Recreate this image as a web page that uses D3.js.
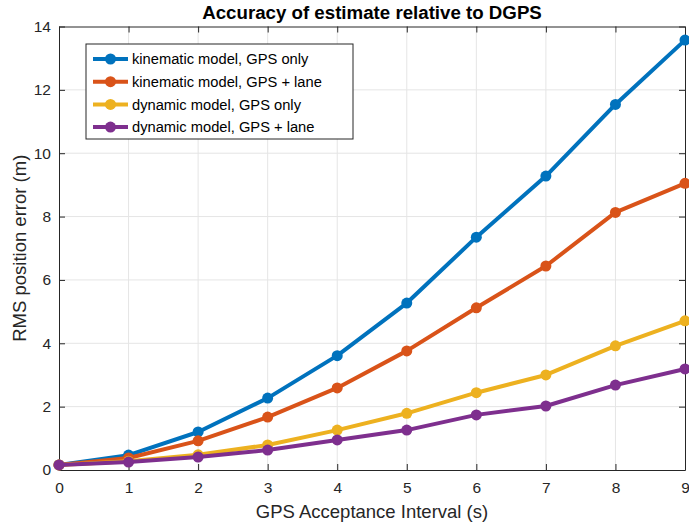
<!DOCTYPE html>
<html>
<head>
<meta charset="utf-8">
<script src="https://cdn.jsdelivr.net/npm/d3@7/dist/d3.min.js"></script>
<style>
  body { margin: 0; background: #fff; }
  text { font-family: "Liberation Sans", Arial, sans-serif; }
</style>
</head>
<body>
<div id="chart"></div>
<script>
var intervals = [0, 1, 2, 3, 4, 5, 6, 7, 8, 9];
var kinGps     = [0.16, 0.47, 1.2, 2.27, 3.61, 5.27, 7.35, 9.28, 11.54, 13.57];
var kinGpsLane = [0.16, 0.38, 0.92, 1.67, 2.59, 3.76, 5.12, 6.44, 8.13, 9.05];
var dynGps     = [0.16, 0.28, 0.48, 0.79, 1.26, 1.79, 2.44, 3.0, 3.92, 4.71];
var dynGpsLane = [0.16, 0.25, 0.41, 0.63, 0.95, 1.26, 1.74, 2.02, 2.68, 3.19];
var seriesNames = ["kinematic model, GPS only", "kinematic model, GPS + lane",
                   "dynamic model, GPS only", "dynamic model, GPS + lane"];
var xTicks = [0, 1, 2, 3, 4, 5, 6, 7, 8, 9];
var yTicks = [0, 2, 4, 6, 8, 10, 12, 14];

var colors = ["#0072BD", "#D95319", "#EDB120", "#7E2F8E"];
var series = [kinGps, kinGpsLane, dynGps, dynGpsLane].map(function(vals, i){
  return {name: seriesNames[i], color: colors[i],
          values: vals.map(function(v, j){ return {x: intervals[j], y: v}; })};
});

var width = 689, height = 525;
var margin = {top: 26.5, right: 4, bottom: 55, left: 59};

var svg = d3.select("#chart").append("svg")
  .attr("width", width)
  .attr("height", height);

var xScale = d3.scaleLinear().domain([0, 9]).range([margin.left, width - margin.right]);
var yScale = d3.scaleLinear().domain([0, 14]).range([height - margin.bottom, margin.top]);

var x0 = xScale.range()[0], x1 = xScale.range()[1];
var y0 = yScale.range()[0], y1 = yScale.range()[1];

// grid
var grid = svg.append("g").attr("class", "grid");
grid.selectAll("line.gx").data(xTicks.slice(1, -1)).enter().append("line")
  .attr("x1", d => xScale(d)).attr("x2", d => xScale(d))
  .attr("y1", y1).attr("y2", y0)
  .attr("stroke", "#e5e5e5").attr("stroke-width", 1);
grid.selectAll("line.gy").data(yTicks.slice(1, -1)).enter().append("line")
  .attr("y1", d => yScale(d)).attr("y2", d => yScale(d))
  .attr("x1", x0).attr("x2", x1)
  .attr("stroke", "#e5e5e5").attr("stroke-width", 1);

// axes (ticks inside, box on)
var tickLen = 6;
var xAxis = d3.axisBottom(xScale).tickValues(xTicks).tickSizeInner(-tickLen).tickSizeOuter(0).tickPadding(12);
var yAxis = d3.axisLeft(yScale).tickValues(yTicks).tickSizeInner(-tickLen).tickSizeOuter(0).tickPadding(8);
var xAxisTop = d3.axisTop(xScale).tickValues(xTicks).tickSizeInner(-tickLen).tickSizeOuter(0).tickFormat("");
var yAxisRight = d3.axisRight(yScale).tickValues(yTicks).tickSizeInner(-tickLen).tickSizeOuter(0).tickFormat("");

function styleAxis(g){
  g.selectAll("path").attr("stroke", "#262626").attr("stroke-width", 1);
  g.selectAll("line").attr("stroke", "#262626").attr("stroke-width", 1);
  g.selectAll("text").attr("fill", "#262626").style("font-size", "15.5px");
}

svg.append("g").attr("transform", "translate(0," + y0 + ")").call(xAxis).call(styleAxis);
svg.append("g").attr("transform", "translate(" + x0 + ",0)").call(yAxis).call(styleAxis);
svg.append("g").attr("transform", "translate(0," + y1 + ")").call(xAxisTop).call(styleAxis);
svg.append("g").attr("transform", "translate(" + x1 + ",0)").call(yAxisRight).call(styleAxis);

// lines
var line = d3.line().x(d => xScale(d.x)).y(d => yScale(d.y));

var sg = svg.selectAll("g.series").data(series).enter().append("g").attr("class", "series");
sg.append("path")
  .attr("d", d => line(d.values))
  .attr("fill", "none")
  .attr("stroke", d => d.color)
  .attr("stroke-width", 4)
  .attr("stroke-linejoin", "round");
sg.each(function(s){
  d3.select(this).selectAll("circle").data(s.values).enter().append("circle")
    .attr("cx", d => xScale(d.x))
    .attr("cy", d => yScale(d.y))
    .attr("r", 5.5)
    .attr("fill", s.color);
});

// title and labels
svg.append("text")
  .attr("x", (x0 + x1) / 2).attr("y", 19)
  .attr("text-anchor", "middle")
  .style("font-size", "18.7px").style("font-weight", "bold")
  .attr("fill", "#000")
  .text("Accuracy of estimate relative to DGPS");

svg.append("text")
  .attr("x", (x0 + x1) / 2).attr("y", 518)
  .attr("text-anchor", "middle")
  .style("font-size", "18.5px")
  .attr("fill", "#262626")
  .text("GPS Acceptance Interval (s)");

svg.append("text")
  .attr("transform", "translate(26," + ((y0 + y1) / 2) + ") rotate(-90)")
  .attr("text-anchor", "middle")
  .style("font-size", "18.5px")
  .attr("fill", "#262626")
  .text("RMS position error (m)");

// legend
var legend = svg.append("g").attr("transform", "translate(86,44)");
legend.append("rect")
  .attr("width", 267).attr("height", 95)
  .attr("fill", "#fff").attr("stroke", "#262626").attr("stroke-width", 1);
var li = legend.selectAll("g.item").data(series).enter().append("g")
  .attr("transform", (d, i) => "translate(0," + (15 + i * 22.7) + ")");
li.append("line")
  .attr("x1", 7).attr("x2", 42)
  .attr("stroke", d => d.color).attr("stroke-width", 4);
li.append("circle").attr("cx", 24.5).attr("r", 5.5).attr("fill", d => d.color);
li.append("text")
  .attr("x", 46).attr("dy", "0.35em")
  .style("font-size", "14.7px")
  .attr("fill", "#000")
  .text(d => d.name);
</script>
</body>
</html>
